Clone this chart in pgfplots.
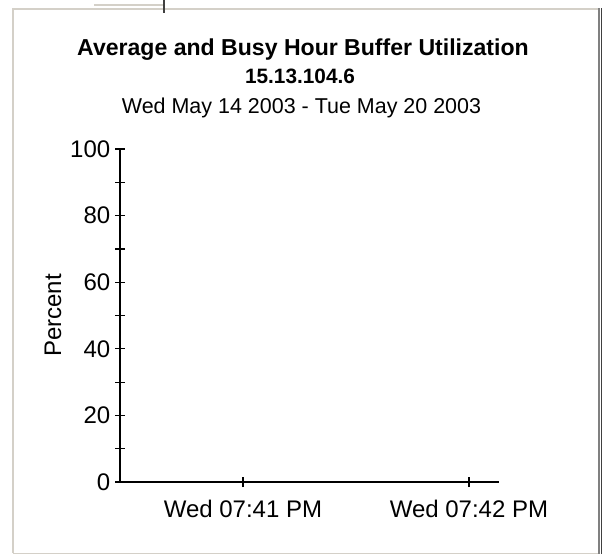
\documentclass[border=0pt]{standalone}
\usepackage{pgfplots}
\pgfplotsset{compat=1.18}
\usepackage{fontspec}
\setmainfont{Liberation Sans}
\definecolor{frameLight}{RGB}{212,208,200}
\definecolor{frameDark}{RGB}{128,128,128}
\definecolor{frameDarker}{RGB}{64,64,64}
\begin{document}
\begin{tikzpicture}
\begin{scope}[x=0.75pt,y=-0.75pt]
\path[use as bounding box] (0,0) rectangle (605,554);
% frame
\draw[frameLight, line width=1.5pt] (13,553) -- (13,9) -- (599,9);
\draw[frameLight, line width=0.75pt] (13,553) -- (599,553);
\draw[frameDark, line width=1.5pt] (599,8) -- (599,554);
\draw[frameDarker, line width=0.75pt] (601.5,8) -- (601.5,554);
% small tab at top
\draw[frameLight, line width=1.2pt] (94,5) -- (164,5);
\draw[frameDarker, line width=1.2pt] (164,0) -- (164,13);
% titles
\node[anchor=base, font=\bfseries\fontsize{17.3pt}{20pt}\selectfont, inner sep=0pt] at (303,55) {Average and Busy Hour Buffer Utilization};
\node[anchor=base, font=\bfseries\fontsize{15.6pt}{18pt}\selectfont, inner sep=0pt] at (300,83) {15.13.104.6};
\node[anchor=base, font=\fontsize{16.1pt}{19pt}\selectfont, inner sep=0pt] at (301.5,113) {Wed May 14 2003 - Tue May 20 2003};
\end{scope}
\begin{axis}[
  at={(90pt,-361.5pt)}, anchor=south west,
  scale only axis, width=284.25pt, height=249.75pt,
  axis x line=bottom, axis y line=left,
  axis line style={-, line width=1.5pt, black},
  xmin=0.456, xmax=2.133, ymin=0, ymax=100,
  xtick={1,2}, xticklabels={Wed 07:41 PM, Wed 07:42 PM},
  ytick={0,20,40,60,80,100},
  minor ytick={10,30,50,70,90},
  tick align=center,
  major tick length=7.5pt, minor tick length=7.5pt,
  every tick/.style={black, line width=0.9pt},
  tick label style={font=\fontsize{18pt}{21pt}\selectfont, /pgf/number format/assume math mode=true},
  xticklabel style={yshift=-6pt},
  /pgf/number format/assume math mode=true,
  ylabel={Percent},
  ylabel style={font=\fontsize{18pt}{21pt}\selectfont, at={(axis description cs:-0.1768,0.5)}, anchor=center},
]
\addplot[draw=none, forget plot] coordinates {(0.456,0)};
\end{axis}
\end{tikzpicture}
\end{document}
